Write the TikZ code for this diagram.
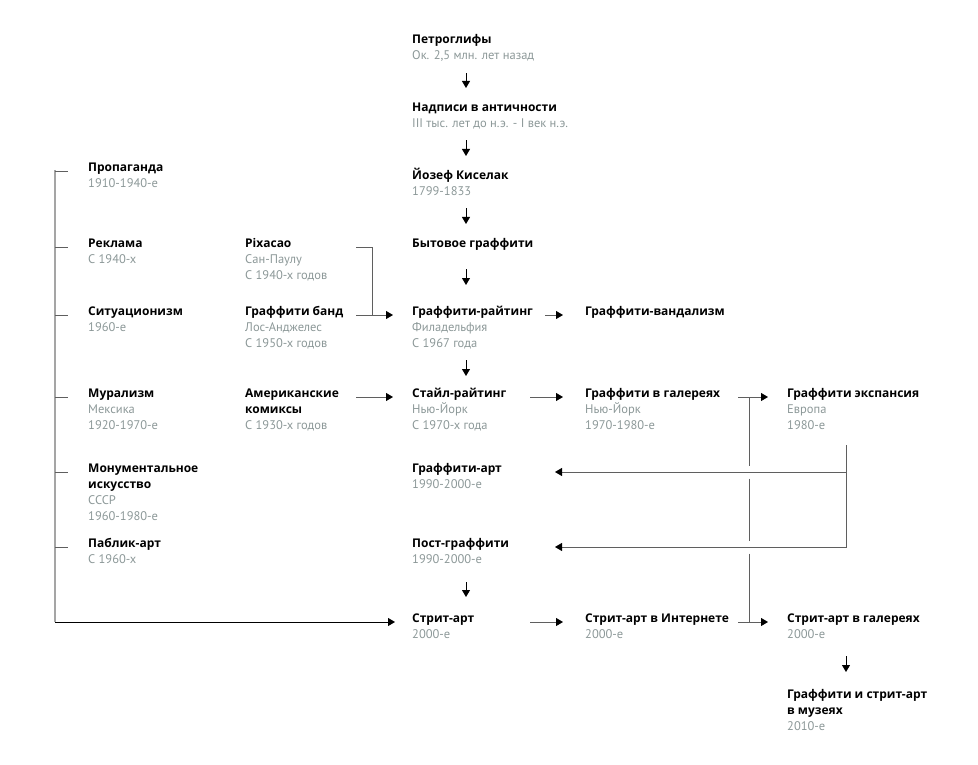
\documentclass[tikz,border=0pt]{standalone}
\usepackage{fontspec}
\setmainfont{PT Sans}
\newfontfamily\tfont{Open Sans}
\usetikzlibrary{arrows.meta,positioning}
\definecolor{subgray}{RGB}{140,152,152}
\definecolor{linegray}{RGB}{95,95,95}
\definecolor{bargray}{RGB}{165,165,165}
\tikzstyle{entry}=[anchor=north west,inner sep=0pt,align=left,
font=\fontsize{12.5}{16}\selectfont]
\tikzstyle{arr}=[draw=linegray,line width=0.9pt,
-{Triangle[length=7pt,width=8pt,color=black]}]
\tikzstyle{varr}=[arr,draw=black,shorten <=8pt,shorten >=23pt]
\tikzstyle{link}=[draw=linegray,line width=0.9pt]
\tikzstyle{bar}=[draw=bargray,line width=1.6pt]
\newcommand{\ttl}[1]{\smash{\tfont\fontsize{12}{16}\selectfont\bfseries #1}}
\newcommand{\gr}[1]{\textcolor{subgray}{#1}\strut}

\begin{document}
\begin{tikzpicture}[x=1pt,y=-1pt]
            \useasboundingbox (0,0) rectangle (978,765);

            % MAIN LINE

            \node[entry] (petro) at (412,43) {\ttl{Петроглифы}\\\gr{Ок. 2,5 млн. лет назад}};
            \node[entry] (nadp) at (412,111) {\ttl{Надписи в античности}\\\gr{III тыс. лет до н.э. - I век н.э.}};
            \node[entry] (kiselak) at (412,179) {\ttl{Йозеф Киселак}\\\gr{1799-1833}};
            \node[entry] (bytov) at (412,247) {\ttl{Бытовое граффити}};
            \node[entry] (writing) at (412,315) {\ttl{Граффити-райтинг}\\\gr{Филадельфия}\\\gr{С 1967 года}};
            \node[entry] (style) at (412,397) {\ttl{Стайл-райтинг}\\\gr{Нью-Йорк}\\\gr{С 1970-х года}};
            \node[entry] (gart) at (412,472) {\ttl{Граффити-арт}\\\gr{1990-2000-е}};
            \node[entry] (postg) at (412,547) {\ttl{Пост-граффити}\\\gr{1990-2000-е}};
            \node[entry] (street) at (412,622) {\ttl{Стрит-арт}\\\gr{2000-е}};

            % LEFT PART

            \node[entry] (propag) at (88,171) {\ttl{Пропаганда}\\\gr{1910-1940-е}};
            \node[entry] (reklama) at (88,247) {\ttl{Реклама}\\\gr{С 1940-х}};
            \node[entry] (situac) at (88,315) {\ttl{Ситуационизм}\\\gr{1960-е}};
            \node[entry] (mural) at (88,397) {\ttl{Мурализм}\\\gr{Мексика}\\\gr{1920-1970-е}};
            \node[entry] (monum) at (88,472) {\ttl{Монументальное}\\\ttl{искусство}\\\gr{СССР}\\\gr{1960-1980-е}};
            \node[entry] (public) at (88,547) {\ttl{Паблик-арт}\\\gr{С 1960-х}};

            \node[entry] (pixacao) at (245,247) {\ttl{Pixacao}\\\gr{Сан-Паулу}\\\gr{С 1940-х годов}};
            \node[entry] (gband) at (245,315) {\ttl{Граффити банд}\\\gr{Лос-Анджелес}\\\gr{С 1950-х годов}};
            \node[entry] (comics) at (245,397) {\ttl{Американские}\\\ttl{комиксы}\\\gr{С 1930-х годов}};

            % RIGHT PART

            \node[entry] (vandal) at (585,315) {\ttl{Граффити-вандализм}};
            \node[entry] (galler) at (585,397) {\ttl{Граффити в галереях}\\\gr{Нью-Йорк}\\\gr{1970-1980-е}};
            \node[entry] (inet) at (585,622) {\ttl{Стрит-арт в Интернете}\\\gr{2000-е}};

            \node[entry] (expans) at (787,397) {\ttl{Граффити экспансия}\\\gr{Европа}\\\gr{1980-е}};
            \node[entry] (sgaller) at (787,622) {\ttl{Стрит-арт в галереях}\\\gr{2000-е}};
            \node[entry] (museum) at (787,698) {\ttl{Граффити и стрит-арт}\\\ttl{в музеях}\\\gr{2010-е}};

            \coordinate (axM) at (466,0);
            \coordinate (axJ) at (749,0);
            \coordinate (axR) at (846,0);
            \coordinate (barTop) at (55,170);
            \coordinate (barBot) at (55,622);

            % Main line arrows

            \draw[varr,shorten <=9pt] (petro.south -| axM) -- (nadp.north -| axM);
            \draw[varr] (nadp.south -| axM) -- (kiselak.north -| axM);
            \draw[varr] (kiselak.south -| axM) -- (bytov.north -| axM);
            \draw[varr,shorten <=21pt,shorten >=30pt] (bytov.south -| axM) -- (writing.north -| axM);
            \draw[varr,shorten >=21pt] (writing.south -| axM) -- (style.north -| axM);
            \draw[varr,shorten <=14pt,shorten >=25pt] (postg.south -| axM) -- (street.north -| axM);
            \draw[varr,shorten <=13pt,shorten >=26pt] (sgaller.south -| axR) -- (museum.north -| axR);

            \draw[arr,shorten >=22pt] ([xshift=133pt]writing.north west) -- (vandal.north west);
            \draw[arr,shorten >=22pt] ([xshift=118pt]style.north west) -- (galler.north west);
            \draw[arr,shorten >=22pt] ([xshift=118pt]street.north west) -- (inet.north west);
            \draw[arr,shorten >=19pt] ([xshift=153pt]galler.north west) -- (expans.north west);
            \draw[arr,shorten >=19pt] ([xshift=153pt]inet.north west) -- (sgaller.north west);

            % Connections of the left part

            \draw[bar] (barTop) -- (barBot);
            \foreach \e in {propag,reklama,situac,mural,monum,public}
                \draw[link,shorten >=20pt] (barTop |- \e.north) -- (\e.north west);
            \draw[arr,draw=black,shorten >=17pt] (barBot) -- (street.north west);

            \draw[link] ([xshift=111pt]pixacao.north west) -| ([xshift=127pt]gband.north west);
            \draw[arr,shorten >=19pt] ([xshift=111pt]gband.north west) -- (writing.north west);
            \draw[arr,shorten >=19pt] ([xshift=111pt]comics.north west) -- (style.north west);

            % Connections of the right part

            \draw[link,dash pattern=on 68.5pt off 13pt on 62pt off 13pt on 80pt] (galler.north -| axJ) -- (inet.north -| axJ);
            \draw[arr,shorten <=11pt] (expans.south -| axR) |- ([xshift=143pt]gart.north west);
            \draw[arr,shorten <=11pt] (expans.south -| axR) |- ([xshift=143pt]postg.north west);

\end{tikzpicture}
\end{document}
